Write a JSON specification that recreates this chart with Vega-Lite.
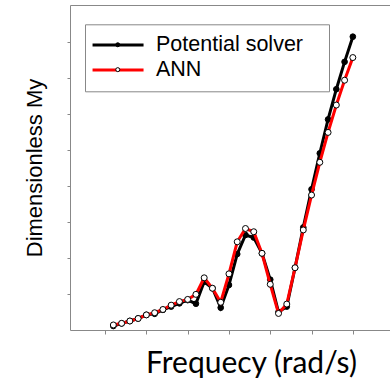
{
  "$schema": "https://vega.github.io/schema/vega-lite/v6.json",
  "autosize": "none",
  "width": 320,
  "height": 325,
  "padding": {"left": 70, "top": 5, "right": 0, "bottom": 50},
  "background": "white",
  "config": {"view": {"stroke": null}},
  "data": {"values": [
    {"f": 0.2, "v": 0.11, "s": "Potential solver"},
    {"f": 0.4, "v": 0.185, "s": "Potential solver"},
    {"f": 0.6, "v": 0.25, "s": "Potential solver"},
    {"f": 0.8, "v": 0.32, "s": "Potential solver"},
    {"f": 1.0, "v": 0.42, "s": "Potential solver"},
    {"f": 1.2, "v": 0.45, "s": "Potential solver"},
    {"f": 1.4, "v": 0.56, "s": "Potential solver"},
    {"f": 1.6, "v": 0.65, "s": "Potential solver"},
    {"f": 1.8, "v": 0.74, "s": "Potential solver"},
    {"f": 2.0, "v": 0.83, "s": "Potential solver"},
    {"f": 2.2, "v": 0.73, "s": "Potential solver"},
    {"f": 2.4, "v": 1.34, "s": "Potential solver"},
    {"f": 2.6, "v": 1.16, "s": "Potential solver"},
    {"f": 2.8, "v": 0.62, "s": "Potential solver"},
    {"f": 3.0, "v": 1.25, "s": "Potential solver"},
    {"f": 3.2, "v": 2.11, "s": "Potential solver"},
    {"f": 3.4, "v": 2.64, "s": "Potential solver"},
    {"f": 3.6, "v": 2.57, "s": "Potential solver"},
    {"f": 3.8, "v": 2.13, "s": "Potential solver"},
    {"f": 4.0, "v": 1.4, "s": "Potential solver"},
    {"f": 4.2, "v": 0.5, "s": "Potential solver"},
    {"f": 4.4, "v": 0.65, "s": "Potential solver"},
    {"f": 4.6, "v": 1.73, "s": "Potential solver"},
    {"f": 4.8, "v": 2.85, "s": "Potential solver"},
    {"f": 5.0, "v": 3.91, "s": "Potential solver"},
    {"f": 5.2, "v": 4.91, "s": "Potential solver"},
    {"f": 5.4, "v": 5.85, "s": "Potential solver"},
    {"f": 5.6, "v": 6.69, "s": "Potential solver"},
    {"f": 5.8, "v": 7.45, "s": "Potential solver"},
    {"f": 6.0, "v": 8.15, "s": "Potential solver"},
    {"f": 0.2, "v": 0.14, "s": "ANN"},
    {"f": 0.4, "v": 0.185, "s": "ANN"},
    {"f": 0.6, "v": 0.25, "s": "ANN"},
    {"f": 0.8, "v": 0.32, "s": "ANN"},
    {"f": 1.0, "v": 0.42, "s": "ANN"},
    {"f": 1.2, "v": 0.48, "s": "ANN"},
    {"f": 1.4, "v": 0.57, "s": "ANN"},
    {"f": 1.6, "v": 0.69, "s": "ANN"},
    {"f": 1.8, "v": 0.79, "s": "ANN"},
    {"f": 2.0, "v": 0.85, "s": "ANN"},
    {"f": 2.2, "v": 0.99, "s": "ANN"},
    {"f": 2.4, "v": 1.45, "s": "ANN"},
    {"f": 2.6, "v": 1.16, "s": "ANN"},
    {"f": 2.8, "v": 0.77, "s": "ANN"},
    {"f": 3.0, "v": 1.56, "s": "ANN"},
    {"f": 3.2, "v": 2.45, "s": "ANN"},
    {"f": 3.4, "v": 2.82, "s": "ANN"},
    {"f": 3.6, "v": 2.73, "s": "ANN"},
    {"f": 3.8, "v": 2.13, "s": "ANN"},
    {"f": 4.0, "v": 1.27, "s": "ANN"},
    {"f": 4.2, "v": 0.46, "s": "ANN"},
    {"f": 4.4, "v": 0.72, "s": "ANN"},
    {"f": 4.6, "v": 1.73, "s": "ANN"},
    {"f": 4.8, "v": 2.78, "s": "ANN"},
    {"f": 5.0, "v": 3.75, "s": "ANN"},
    {"f": 5.2, "v": 4.66, "s": "ANN"},
    {"f": 5.4, "v": 5.49, "s": "ANN"},
    {"f": 5.6, "v": 6.25, "s": "ANN"},
    {"f": 5.8, "v": 6.94, "s": "ANN"},
    {"f": 6.0, "v": 7.57, "s": "ANN"}
  ]},
  "resolve": {"axis": {"x": "independent"}},
  "layer": [
    {
      "transform": [{"filter": "datum.s === 'Potential solver'"}],
      "mark": {"type": "line", "strokeWidth": 3},
      "encoding": {
        "x": {"field": "f", "type": "quantitative", "scale": {"domain": [-0.85, 6.9], "nice": false, "zero": false},
          "axis": {"values": [0,1,2,3,4,5,6], "labels": false, "grid": false, "tickSize": 4, "tickColor": "#888", "domainColor": "#888",
            "title": "Frequecy (rad/s)", "titleFont": "Lato", "titleFontSize": 30, "titleFontWeight": "normal", "titleColor": "black",
            "titleX": 181, "titleY": 42, "titleAlign": "center", "titleBaseline": "alphabetic", "titleAnchor": null}},
        "y": {"field": "v", "type": "quantitative", "scale": {"domain": [0, 9.03], "nice": false},
          "axis": {"values": [1,2,3,4,5,6,7,8], "labels": false, "grid": false, "tickSize": 3, "tickColor": "#888", "domainColor": "#888",
            "title": "Dimensionless My", "titleFont": "Liberation Sans", "titleFontSize": 22, "titleFontWeight": "normal", "titleColor": "black", "titlePadding": 20}},
        "stroke": {"field": "s", "type": "nominal",
          "scale": {"domain": ["Potential solver", "ANN"], "range": ["black", "#ff0000"]},
          "legend": {"orient": "none", "legendX": 15, "legendY": 19.3, "padding": 10,
            "title": "__", "titleOrient": "right", "titleColor": "transparent", "titleFontSize": 12, "titlePadding": 2,
            "strokeColor": "#888", "fillColor": "white", "symbolType": "M-8.5,0H8.5", "symbolSize": 36, "symbolStrokeWidth": 3, "symbolOffset": 12.3,
            "labelFont": "Liberation Sans", "labelFontSize": 21.5, "labelColor": "black", "labelOffset": 27.2, "rowPadding": 1.9}}
      }
    },
    {
      "transform": [{"filter": "datum.s === 'Potential solver'"}],
      "mark": {"type": "point", "shape": "circle", "filled": true, "size": 32, "stroke": "black", "strokeWidth": 1, "opacity": 1},
      "encoding": {
        "x": {"field": "f", "type": "quantitative", "axis": null},
        "y": {"field": "v", "type": "quantitative"},
        "fill": {"field": "s", "type": "nominal",
          "scale": {"domain": ["Potential solver", "ANN"], "range": ["black", "white"]},
          "legend": {"orient": "top-left", "offset": 19.3, "title": null, "padding": 10, "symbolOffset": 8,
            "symbolType": "circle", "symbolSize": 16, "symbolStrokeColor": "black", "symbolStrokeWidth": 1, "symbolOpacity": 1,
            "labelFont": "Liberation Sans", "labelFontSize": 21.5, "labelColor": "transparent", "labelExpr": "' '", "labelOffset": 13, "rowPadding": 1.9}}
      }
    },
    {
      "transform": [{"filter": "datum.s === 'ANN'"}],
      "mark": {"type": "line", "strokeWidth": 3},
      "encoding": {
        "x": {"field": "f", "type": "quantitative",
          "axis": {"orient": "top", "labels": false, "ticks": false, "grid": false, "title": null, "domainColor": "#888"}},
        "y": {"field": "v", "type": "quantitative"},
        "stroke": {"field": "s", "type": "nominal"}
      }
    },
    {
      "transform": [{"filter": "datum.s === 'ANN'"}],
      "mark": {"type": "point", "shape": "circle", "filled": true, "size": 36, "stroke": "black", "strokeWidth": 1, "opacity": 1},
      "encoding": {
        "x": {"field": "f", "type": "quantitative", "axis": null},
        "y": {"field": "v", "type": "quantitative"},
        "fill": {"field": "s", "type": "nominal"}
      }
    }
  ]
}
